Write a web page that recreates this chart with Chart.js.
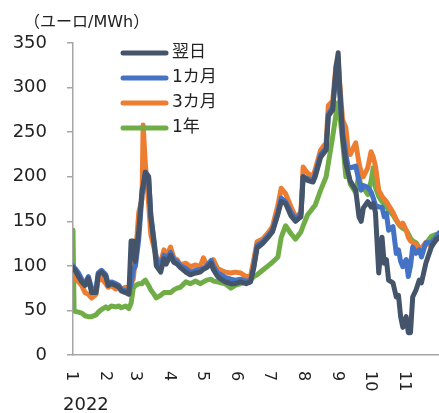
<!DOCTYPE html>
<html lang="ja">
<head>
    <meta charset="UTF-8">
    <title>電力価格</title>
    <script src="https://cdn.jsdelivr.net/npm/chart.js"></script>
    <style>
        body { margin: 0; background: #fff; }
        .chart-box { width: 439px; height: 413px; position: relative; }
    </style>
</head>
<body>
    <div class="chart-box">
        <canvas id="priceChart"></canvas>
    </div>

    <script>
        // days since 1 Jan 2022
        const days = [
            0, 1, 2, 5, 8, 11, 14, 17, 21, 23,
            26, 30, 32, 35, 39, 42, 44, 48, 51, 53,
            55, 57, 60, 63, 64, 66, 69, 71, 74, 76,
            80, 83, 85, 89, 92, 95, 98, 103, 107, 112,
            116, 119, 122, 126, 128, 132, 135, 139, 144, 148,
            153, 158, 162, 165, 168, 173, 178, 182, 187, 190,
            194, 199, 203, 208, 210, 214, 219, 221, 226, 231,
            233, 237, 240, 242, 243, 246, 249, 251, 253, 258,
            261, 263, 265, 269, 272, 274, 276, 279, 282, 284,
            286, 288, 292, 295, 297, 299, 301, 304, 306, 308,
            310, 313, 316, 318, 322, 327, 331, 334
        ];

        const dayAhead = [
            98, 96, 95, 88, 82, 78, 86, 70, 70, 90,
            93, 88, 78, 80, 78, 76, 72, 70, 68, 128,
            128, 105, 140, 185, 190, 205, 200, 155, 125, 100,
            93, 108, 102, 112, 104, 102, 98, 93, 90, 92,
            93, 96, 98, 103, 96, 88, 85, 82, 80, 80,
            82, 80, 82, 98, 120, 125, 132, 138, 158, 172,
            170, 156, 150, 155, 200, 196, 194, 200, 222, 230,
            268, 275, 322, 339, 310, 245, 215, 205, 195, 185,
            155, 150, 165, 172, 166, 170, 160, 92, 132, 103,
            107, 84, 81, 65, 67, 43, 31, 43, 25, 25,
            65, 73, 84, 81, 103, 121, 129, 132
        ];

        const oneMonth = [
            100, 98, 97, 92, 85, 80, 88, 75, 74, 92,
            95, 90, 80, 82, 80, 78, 74, 72, 70, 80,
            95, 100, 130, 180, 185, 205, 200, 158, 128, 108,
            100, 112, 107, 115, 107, 105, 100, 97, 93, 95,
            96, 97, 100, 106, 100, 92, 90, 87, 85, 84,
            85, 83, 83, 100, 123, 127, 134, 140, 160, 176,
            172, 160, 153, 158, 200, 198, 195, 203, 225, 232,
            270, 278, 318, 330, 300, 250, 225, 212, 210, 212,
            195, 185, 190, 188, 183, 176, 168, 166, 166, 155,
            159, 140, 144, 114, 118, 105, 99, 107, 88, 100,
            121, 114, 118, 110, 126, 126, 132, 137
        ];

        const threeMonth = [
            88, 88, 86, 82, 78, 70, 68, 64, 68, 84,
            86, 80, 76, 78, 74, 76, 73, 76, 71, 80,
            85, 110, 160, 175, 258, 215, 170, 135, 120, 110,
            103, 118, 110, 121, 109, 107, 101, 103, 99, 101,
            99, 109, 101, 103, 107, 97, 95, 93, 92, 93,
            92, 88, 88, 107, 127, 130, 137, 144, 168, 187,
            181, 166, 155, 160, 211, 204, 200, 208, 230, 238,
            280, 285, 325, 334, 310, 264, 255, 230, 225, 238,
            215, 205, 200, 210, 228, 222, 212, 185, 178, 175,
            172, 168, 160, 152, 148, 145, 148, 140, 132, 128,
            126, 124, 118, 120, 126, 122, 128, 132
        ];

        const oneYear = [
            140, 50, 49, 48, 47, 44, 43, 43, 45, 48,
            51, 54, 52, 55, 54, 55, 53, 55, 52, 58,
            75, 78, 80, 80, 82, 84, 78, 73, 68, 64,
            67, 70, 70, 70, 73, 75, 76, 82, 80, 83,
            80, 82, 84, 85, 83, 82, 81, 80, 75, 78,
            80, 82, 84, 88, 90, 95, 100, 104, 110, 132,
            145, 136, 130, 138, 145, 157, 165, 168, 185, 200,
            215, 245, 270, 283, 276, 240, 200, 205, 192, 182,
            203, 186, 188, 180, 195, 210, 188, 178, 172, 170,
            166, 163, 157, 151, 147, 144, 142, 140, 136, 131,
            128, 126, 120, 118, 125, 133, 135, 136
        ];

        const seriesNames = ['翌日', '1カ月', '3カ月', '1年'];
        const seriesColors = ['#44546A', '#4472C4', '#ED7D31', '#70AD47'];
        const monthStarts = [0, 31, 59, 90, 120, 151, 181, 212, 243, 273, 304];
        const monthLabels = ['1', '2', '3', '4', '5', '6', '7', '8', '9', '10', '11'];
        const yearLabel = '2022';
        const unitLabel = '（ユーロ/MWh）';

        const FONT = "'DejaVu Sans', 'Noto Sans CJK JP', sans-serif";
        const axisGrey = '#a6a6a6';

        const allSeries = [dayAhead, oneMonth, threeMonth, oneYear];
        const toPoints = vals => vals.map((v, i) => ({ x: days[i], y: v }));

        // Extra drawing: unit label, rotated month labels, year, legend
        const extrasPlugin = {
            id: 'extras',
            afterDraw(chart) {
                const ctx = chart.ctx;
                const xs = chart.scales.x;
                ctx.save();
                ctx.fillStyle = '#222';

                ctx.font = '16px ' + FONT;
                ctx.textAlign = 'left';
                ctx.textBaseline = 'middle';
                ctx.fillText(unitLabel, 24, 23);

                // month labels, turned clockwise
                ctx.font = '16px ' + FONT;
                monthStarts.forEach((d, i) => {
                    const px = xs.getPixelForValue(d) - 2;
                    ctx.save();
                    ctx.translate(px, 371);
                    ctx.rotate(Math.PI / 2);
                    ctx.textAlign = 'left';
                    ctx.textBaseline = 'middle';
                    ctx.fillText(monthLabels[i], 0, 0);
                    ctx.restore();
                });

                ctx.font = '18px ' + FONT;
                ctx.textBaseline = 'middle';
                ctx.fillText(yearLabel, 63, 405);

                // legend
                chart.data.datasets.forEach((ds, i) => {
                    const y = 53 + i * 25;
                    ctx.strokeStyle = ds.borderColor;
                    ctx.lineWidth = 5;
                    ctx.lineCap = 'round';
                    ctx.beginPath();
                    ctx.moveTo(123, y);
                    ctx.lineTo(166, y);
                    ctx.stroke();
                    ctx.fillStyle = '#222';
                    ctx.font = '17px ' + FONT;
                    ctx.fillText(ds.label, 172, y);
                });
                ctx.restore();
            }
        };

        new Chart(document.getElementById('priceChart'), {
            type: 'line',
            data: {
                datasets: allSeries.map((vals, i) => ({
                    label: seriesNames[i],
                    data: toPoints(vals),
                    borderColor: seriesColors[i],
                    backgroundColor: seriesColors[i],
                    borderWidth: 5,
                    pointRadius: 0,
                    tension: 0,
                    borderJoinStyle: 'round',
                    borderCapStyle: 'round'
                }))
            },
            options: {
                responsive: true,
                maintainAspectRatio: false,
                animation: false,
                layout: { padding: { top: 43, right: 0, left: 0, bottom: 0 } },
                plugins: {
                    legend: { display: false },
                    tooltip: { enabled: false }
                },
                scales: {
                    x: {
                        type: 'linear',
                        min: 0,
                        max: 334,
                        grid: { display: false },
                        border: { color: axisGrey, width: 1.5 },
                        ticks: { display: false },
                        afterFit: s => { s.height = 58; }
                    },
                    y: {
                        min: 0,
                        max: 350,
                        ticks: {
                            stepSize: 50,
                            padding: 20,
                            color: '#222',
                            font: { size: 18, family: FONT }
                        },
                        grid: { drawOnChartArea: false, tickLength: 6, color: axisGrey, lineWidth: 1.5 },
                        border: { color: axisGrey, width: 1.5 },
                        afterFit: s => { s.width = 73; }
                    }
                }
            },
            plugins: [extrasPlugin]
        });
    </script>
</body>
</html>
